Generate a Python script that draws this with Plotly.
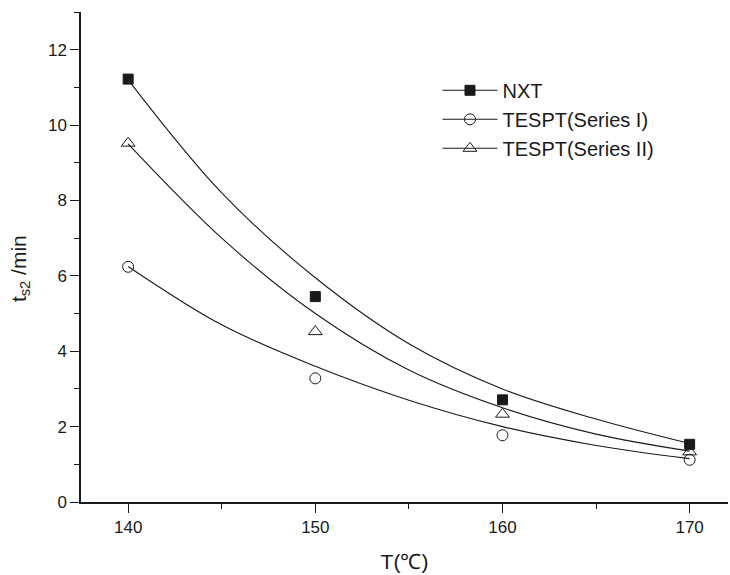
import plotly.graph_objects as go

# Measured data
temps = [140, 150, 160, 170]
nxt = [11.22, 5.45, 2.71, 1.53]
tespt_1 = [6.24, 3.28, 1.77, 1.12]
tespt_2 = [9.52, 4.52, 2.33, 1.33]

# Fitted curves
curve_t = [140, 145, 150, 155, 160, 165, 170]
nxt_fit = [11.2, 8.2, 5.95, 4.2, 3.0, 2.2, 1.55]
tespt_1_fit = [6.25, 4.7, 3.6, 2.7, 2.0, 1.5, 1.15]
tespt_2_fit = [9.5, 7.0, 5.0, 3.5, 2.5, 1.8, 1.35]

names = ["NXT", "TESPT(Series I)", "TESPT(Series II)"]
symbols = ["square", "circle-open", "triangle-up-open"]
sizes = [10, 11, 12]

FONT = "Liberation Sans, Arial, sans-serif"
INK = "#1a1a1a"

fig = go.Figure()

for fit in [nxt_fit, tespt_1_fit, tespt_2_fit]:
    fig.add_trace(go.Scatter(x=curve_t, y=fit, mode="lines",
                             line=dict(color=INK, width=1.1, shape="spline", smoothing=1.0),
                             showlegend=False, hoverinfo="skip"))

for vals, sym, sz in zip([nxt, tespt_1, tespt_2], symbols, sizes):
    fig.add_trace(go.Scatter(x=temps, y=vals, mode="markers",
                             marker=dict(symbol=sym, size=sz, color=INK,
                                         line=dict(color=INK, width=1)),
                             showlegend=False))

for i, (nm, sym, sz) in enumerate(zip(names, symbols, sizes)):
    fig.add_trace(go.Scatter(x=[None], y=[None], mode="lines+markers", name=nm,
                             line=dict(color=INK, width=1.1),
                             marker=dict(symbol=sym, size=sz, color=INK,
                                         line=dict(color=INK, width=1))))

fig.update_layout(
    width=730, height=575,
    margin=dict(l=81, r=2, t=12, b=73),
    paper_bgcolor="white", plot_bgcolor="white",
    font=dict(family=FONT, size=17, color=INK),
    showlegend=True,
    legend=dict(x=0.551, y=0.88, xanchor="left", yanchor="top",
                font=dict(family=FONT, size=20, color=INK),
                bgcolor="rgba(0,0,0,0)", traceorder="normal",
                itemwidth=55),
)

fig.update_xaxes(
    range=[137.48, 172.05], showgrid=False, zeroline=False,
    showline=True, linecolor=INK, linewidth=1.5,
    ticks="outside", ticklen=9, tickwidth=1.3, tickcolor=INK,
    tick0=140, dtick=10,
    minor=dict(ticks="outside", ticklen=5, tickwidth=1.2, tickcolor=INK, dtick=5, tick0=140),
    tickfont=dict(family=FONT, size=17, color=INK),
    title=dict(text="T(℃)", font=dict(family=FONT, size=21, color=INK), standoff=18),
)

fig.update_yaxes(
    range=[0, 13], showgrid=False, zeroline=False,
    showline=True, linecolor=INK, linewidth=1.5,
    ticks="outside", ticklen=9, tickwidth=1.3, tickcolor=INK,
    tick0=0, dtick=2,
    minor=dict(ticks="outside", ticklen=5, tickwidth=1.2, tickcolor=INK, dtick=1, tick0=0),
    tickfont=dict(family=FONT, size=17, color=INK),
    title=dict(text="t<sub>s2</sub>&nbsp;/min&nbsp;&nbsp;&nbsp;&nbsp;",
               font=dict(family=FONT, size=21, color=INK), standoff=16),
)

fig.write_html("out.html")
